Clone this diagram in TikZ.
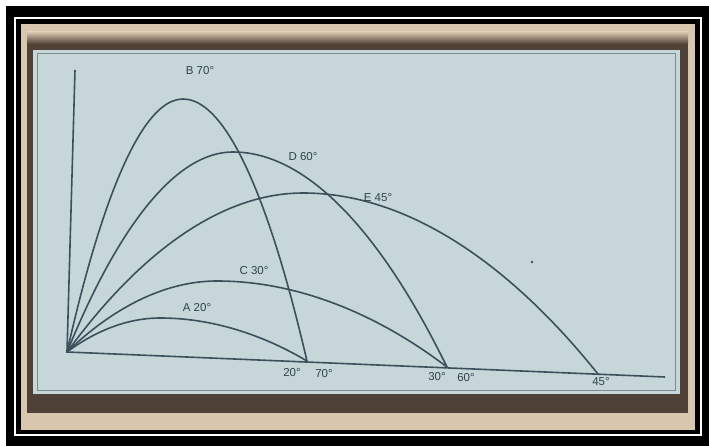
\documentclass[tikz,border=0pt]{standalone}
\usepackage{fontspec}
\setsansfont{Liberation Sans}
\definecolor{ink}{HTML}{3A515C}
\definecolor{txt}{HTML}{2F424C}
\definecolor{panel}{HTML}{C7D6D9}
\definecolor{beige}{HTML}{D8C6AE}
\definecolor{umber}{HTML}{4F4136}
\definecolor{rim}{HTML}{7D8A8C}

\begin{document}
\begin{tikzpicture}[x=1pt, y=-1pt, t/.style={draw=ink, line width=1.6pt}, l/.style={text=txt, font=\sffamily\fontsize{11.5}{13}\selectfont, inner sep=0pt}]
		% frame of the photograph
		\fill[white] (0,0) rectangle (709,446);
		\fill[black] (6,6) rectangle (709,446);
		\draw[white, line width=2pt] (15,18) rectangle (701,435);
		\fill[beige] (21,24) rectangle (695,430);
		\fill[umber] (27,42) rectangle (688,413);
		\shade[top color=beige, bottom color=umber] (27,32) rectangle (688,44);
		\fill[panel] (33,50) rectangle (680,394);
		\draw[rim, line width=1pt] (37,54) rectangle (675,390);

		% axes
		\coordinate (O) at (67,352);
		\coordinate (Ytop) at (75,70);
		\coordinate (Xend) at (665,377);
		\draw[t] (Ytop) -- (O) -- (Xend);

		% landing points and highest points
		\coordinate (R1) at (307,361);
		\coordinate (R2) at (447,367);
		\coordinate (R3) at (598,374);
		\coordinate (Apk) at (160,318);
		\coordinate (Bpk) at (183,99);
		\coordinate (Cpk) at (217,281);
		\coordinate (Dpk) at (233,152);
		\coordinate (Epk) at (303,193);

		\draw[t] (O) parabola bend (Apk) (R1);
		\draw[t] (O) parabola bend (Bpk) (R1);
		\draw[t] (O) parabola bend (Cpk) (R2);
		\draw[t] (O) parabola bend (Dpk) (R2);
		\draw[t] (O) parabola bend (Epk) (R3);

		% labels
		\node[l] (B_label) at (200,71) {B 70°};
		\node[l] (D_label) at (303,157) {D 60°};
		\node[l] (E_label) at (378,198) {E 45°};
		\node[l] (C_label) at (254,271) {C 30°};
		\node[l] (A_label) at (197,308) {A 20°};
		\node[l] (R1a) at (292,373) {20°};
		\node[l] (R1b) at (324,374) {70°};
		\node[l] (R2a) at (437,377) {30°};
		\node[l] (R2b) at (466,378) {60°};
		\node[l] (R3a) at (601,382) {45°};

		\fill[ink] (532,262) circle (1.4);
	\end{tikzpicture}
\end{document}
